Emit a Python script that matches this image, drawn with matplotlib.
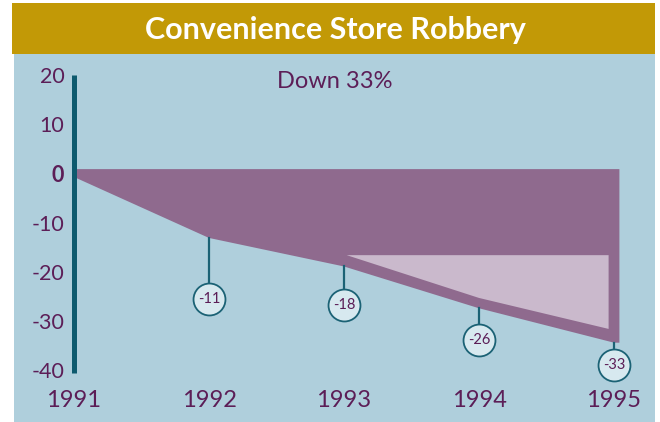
import matplotlib
matplotlib.use("Agg")
import matplotlib.pyplot as plt
from matplotlib.patches import Rectangle, Polygon

plt.rcParams['font.family'] = ['Lato', 'DejaVu Sans']

# ---- data ----
years = [1991, 1992, 1993, 1994, 1995]
line_values = [-0.3, -12.7, -18.5, -27.0, -34.0]   # drawn lower edge of the band
labels = ["-11", "-18", "-26", "-33"]               # callout texts for 1992..1995
label_y = [-25.1, -26.3, -33.5, -38.5]              # callout circle centres
light_x = [1993.02, 1994.0, 1994.96]
light_bottom = [-16.2, -24.9, -31.2]
light_top = -16.2
band_top = 1.3
yticks = [20, 10, 0, -10, -20, -30, -40]
title = "Convenience Store Robbery"
note = "Down 33%"

# ---- colours ----
gold = "#c29906"
blue = "#afcfdc"
dark = "#8f6a8e"
light = "#cab9cc"
teal = "#0d5a6e"
stem_c = "#1b6275"
txt = "#5c1e57"
circ_fc = "#d7e9ef"

W, H = 660, 422
fig = plt.figure(figsize=(W / 100, H / 100), dpi=100)
fig.patch.set_facecolor("white")

# title band
fig.patches.append(Rectangle((12 / W, 1 - 54 / H), (655 - 12) / W, 51 / H,
                             transform=fig.transFigure, facecolor=gold,
                             edgecolor="none", zorder=0))
fig.text(335 / W, 1 - 30 / H, title, color="white", fontsize=22,
         fontweight="bold", ha="center", va="center")

# main axes (blue area)
ax = fig.add_axes([14 / W, 0, (655 - 14) / W, (422 - 54) / H])
ax.set_facecolor(blue)
ax.set_xlim(1990.5556, 1995.3037)
ax.set_ylim(-50.13, 24.71)
for s in ax.spines.values():
    s.set_visible(False)
ax.set_xticks([])
ax.set_yticks([])

# dark band
x_end = years[-1] + 0.04
poly = [(years[0], band_top), (x_end, band_top), (x_end, line_values[-1])]
poly += [(x, y) for x, y in zip(years[::-1], line_values[::-1])]
ax.add_patch(Polygon(poly, closed=True, facecolor=dark, edgecolor="none", zorder=2))

# light inset
lp = [(light_x[0], light_top), (light_x[-1], light_top)]
lp += [(x, y) for x, y in zip(light_x[::-1], light_bottom[::-1])]
ax.add_patch(Polygon(lp, closed=True, facecolor=light, edgecolor="none", zorder=3))

# vertical axis bar
ax.plot([years[0], years[0]], [-40.2, 20.4], color=teal, lw=3.6,
        solid_capstyle="butt", zorder=4)

# y tick labels
for v in yticks:
    ax.annotate(str(v), (years[0], v), xytext=(-7, 0), textcoords="offset points",
                ha="right", va="center", color=txt, fontsize=15.5,
                fontweight="bold" if v == 0 else "normal")

# year labels
for yr in years:
    ax.text(yr, -45.7, str(yr), ha="center", va="center", color=txt,
            fontsize=17, fontweight="normal")

# callouts
for yr, v, ly, lab in zip(years[1:], line_values[1:], label_y, labels):
    ax.plot([yr, yr], [v, ly], color=stem_c, lw=1.6, zorder=5)
    ax.plot([yr], [ly], marker="o", markersize=23, markerfacecolor=circ_fc,
            markeredgecolor=stem_c, markeredgewidth=1.3, zorder=6)
    ax.text(yr, ly, lab, ha="center", va="center", color=txt, fontsize=10.5,
            zorder=7)

ax.text(1992.93, 19.2, note, ha="center", va="center", color=txt, fontsize=17,
        fontweight="normal")

fig.savefig("out.png", dpi=100, facecolor="white")
